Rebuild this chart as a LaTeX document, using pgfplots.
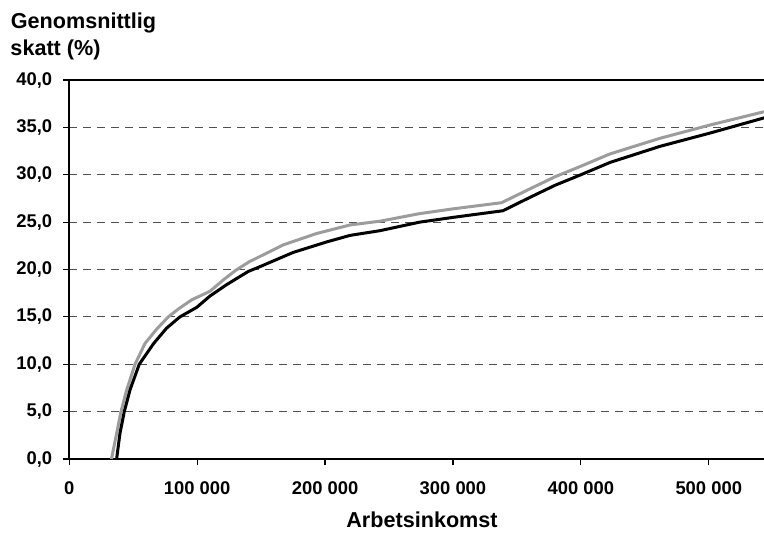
\documentclass[border=0pt]{standalone}
\usepackage{pgfplots}
\pgfplotsset{compat=1.18}
\usepackage{fontspec}
\setmainfont{Liberation Sans}
\definecolor{lightline}{HTML}{9C9C9C}
\definecolor{gridgray}{HTML}{505050}
\begin{document}
\begin{tikzpicture}
\begin{axis}[
  name=ax,
  scale only axis,
  width=347.35pt, height=189.5pt,
  xmin=0, xmax=543200,
  ymin=0, ymax=40,
  axis x line*=bottom, axis y line*=left,
  axis line style={-, line width=1.1pt},
  xtick={0,100000,200000,300000,400000,500000},
  ytick={0,5,...,40},
  scaled x ticks=false,
  tick align=outside,
  major tick length=3pt,
  tick style={black, line width=0.6pt},
  ymajorgrids,
  grid style={gridgray, line width=0.5pt, dash pattern=on 4pt off 3pt},
  /pgf/number format/assume math mode=true,
  xticklabel style={font=\fontsize{9.2}{11}\selectfont\bfseries, yshift=-5pt},
  yticklabel style={font=\fontsize{9.2}{11}\selectfont\bfseries, xshift=-2pt,
    /pgf/number format/.cd, fixed, fixed zerofill, precision=1, use comma},
  x tick label style={/pgf/number format/.cd, fixed, 1000 sep={\ }},
  clip=false,
]
% upper curve (grey)
\addplot[lightline, line width=1.5pt] coordinates {
  (33000,0) (37000,2.7) (40400,5.0) (44900,7.3) (51400,10.0) (59200,12.2)
  (68300,13.7) (77400,15.0) (86000,15.9) (95700,16.8) (110000,17.7)
  (120400,18.9) (130000,19.9) (140500,20.8) (167300,22.6) (193400,23.8)
  (219500,24.7) (243000,25.1) (274000,25.9) (300000,26.4) (338000,27.05)
  (360000,28.5) (380000,29.8) (400000,30.9) (422800,32.2) (461900,33.85)
  (501000,35.25) (543200,36.65)
};
% lower curve (black)
\addplot[black, line width=1.5pt] coordinates {
  (37000,0) (39600,2.7) (43000,5.0) (47500,7.3) (54700,10.0) (66000,12.2)
  (76000,13.8) (86500,15.0) (99600,16.0) (110000,17.2) (123000,18.4)
  (140000,19.8) (149100,20.3) (175000,21.8) (201000,22.9) (219500,23.6)
  (243000,24.1) (274000,25.0) (300000,25.5) (339000,26.2) (360000,27.6)
  (380000,28.9) (400000,30.0) (422800,31.3) (461900,33.0) (501000,34.4)
  (543200,36.0)
};
\draw[line width=1.1pt] (rel axis cs:0,1) -- (rel axis cs:1,1);
\end{axis}
\node[anchor=base west, font=\fontsize{10.8}{13}\selectfont\bfseries, inner sep=0pt]
  at ([xshift=-29.4pt, yshift=26pt]ax.north west) {Genomsnittlig};
\node[anchor=base west, font=\fontsize{10.8}{13}\selectfont\bfseries, inner sep=0pt]
  at ([xshift=-29.6pt, yshift=12.5pt]ax.north west) {skatt (\%)};
\node[anchor=base, font=\fontsize{10.8}{13}\selectfont\bfseries, inner sep=0pt]
  at ([xshift=176.35pt, yshift=-34pt]ax.south west) {Arbetsinkomst};
\pgfresetboundingbox
\path ([xshift=-34.65pt, yshift=-38pt]ax.south west) rectangle ([yshift=40pt]ax.north east);
\end{tikzpicture}
\end{document}
